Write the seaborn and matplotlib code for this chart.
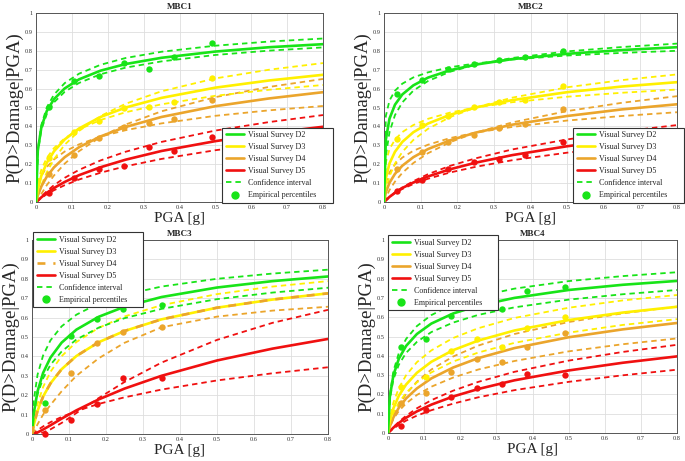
import matplotlib
matplotlib.use('Agg')
import matplotlib.pyplot as plt
from matplotlib.lines import Line2D
import seaborn as sns
import numpy as np

sns.set_theme(style='whitegrid')
plt.rcParams['font.family'] = ['Liberation Serif', 'DejaVu Serif']

# ==========================================
# DATA
# ==========================================
PGA_GRID = [0, 0.005, 0.015, 0.03, 0.05, 0.08, 0.12, 0.18, 0.25, 0.35, 0.5, 0.65, 0.8]
PGA_EMP = [0.035, 0.105, 0.175, 0.245, 0.315, 0.385, 0.49]
PGA_EMP3 = [0.035, 0.105, 0.175, 0.245, 0.35]

# MBC1
MBC1_D2 = [0, .272, .396, .481, .544, .601, .649, .695, .730, .763, .796, .819, .835]
MBC1_D2_A = [0, .274, .408, .500, .568, .629, .679, .726, .762, .795, .827, .849, .865]
MBC1_D2_B = [0, .264, .383, .465, .527, .583, .630, .676, .711, .744, .778, .801, .818]
MBC1_D3 = [0, .066, .140, .207, .268, .331, .389, .450, .500, .551, .605, .643, .673]
MBC1_D3_A = [0, .029, .089, .157, .226, .303, .376, .455, .520, .586, .654, .700, .735]
MBC1_D3_B = [0, .098, .172, .233, .285, .337, .384, .434, .475, .517, .562, .594, .619]
MBC1_D4 = [0, .034, .083, .134, .183, .237, .290, .347, .397, .450, .507, .548, .581]
MBC1_D4_A = [0, .011, .043, .089, .140, .203, .269, .344, .410, .480, .555, .609, .651]
MBC1_D4_B = [0, .081, .138, .185, .225, .267, .305, .346, .380, .416, .456, .485, .508]
MBC1_D5 = [0, .007, .025, .048, .074, .106, .142, .184, .224, .270, .322, .364, .398]
MBC1_D5_A = [0, .009, .029, .057, .089, .128, .170, .220, .266, .318, .378, .423, .460]
MBC1_D5_B = [0, .007, .022, .041, .062, .089, .119, .155, .189, .228, .274, .310, .340]
MBC1_EMP_D2 = [.504, .641, .669, .736, .704, .765, .842]
MBC1_EMP_D3 = [.235, .372, .428, .496, .504, .531, .658]
MBC1_EMP_D4 = [.149, .251, .336, .396, .416, .437, .540]
MBC1_EMP_D5 = [.048, .127, .172, .189, .292, .269, .342]

# MBC2
MBC2_D2 = [0, .330, .441, .515, .569, .617, .658, .697, .727, .756, .784, .804, .819]
MBC2_D2_A = [0, .455, .537, .589, .626, .659, .686, .713, .733, .754, .775, .789, .800]
MBC2_D2_B = [0, .244, .370, .460, .527, .589, .640, .689, .726, .762, .797, .820, .838]
MBC2_D3 = [0, .125, .204, .266, .318, .369, .415, .461, .500, .539, .581, .611, .634]
MBC2_D3_A = [0, .209, .280, .330, .370, .407, .440, .473, .500, .528, .557, .578, .595]
MBC2_D3_B = [0, .063, .136, .204, .265, .328, .387, .449, .500, .552, .607, .645, .675]
MBC2_D4 = [0, .051, .102, .149, .192, .237, .280, .326, .367, .409, .455, .490, .517]
MBC2_D4_A = [0, .102, .156, .199, .235, .271, .303, .338, .367, .397, .431, .455, .475]
MBC2_D4_B = [0, .023, .063, .108, .154, .206, .258, .316, .367, .421, .481, .525, .560]
MBC2_D5 = [0, .009, .027, .049, .074, .103, .135, .173, .208, .248, .295, .332, .362]
MBC2_D5_A = [0, .008, .026, .050, .077, .110, .147, .191, .231, .278, .331, .373, .407]
MBC2_D5_B = [0, .010, .027, .048, .069, .095, .123, .156, .186, .221, .261, .293, .320]
MBC2_EMP_D2 = [.574, .648, .705, .728, .752, .765, .800]
MBC2_EMP_D3 = [.332, .405, .456, .500, .528, .540, .612]
MBC2_EMP_D4 = [.175, .262, .315, .352, .390, .415, .490]
MBC2_EMP_D5 = [.057, .115, .172, .213, .228, .250, .320]

# MBC3 (D3 and D4 curves coincide)
MBC3_D2 = [0, .110, .220, .315, .394, .471, .538, .604, .656, .706, .755, .788, .812]
MBC3_D2_A = [0, .176, .306, .405, .483, .555, .615, .673, .718, .760, .800, .827, .847]
MBC3_D2_B = [0, .107, .205, .287, .357, .425, .487, .548, .597, .645, .695, .729, .754]
MBC3_D34 = [0, .048, .120, .193, .261, .334, .402, .473, .531, .591, .651, .693, .725]
MBC3_D3_A = [0, .065, .155, .242, .321, .401, .474, .547, .606, .664, .721, .760, .788]
MBC3_D4_B = [0, .010, .050, .100, .150, .220, .300, .390, .470, .550, .605, .636, .656]
MBC3_D5 = [0, .001, .008, .023, .045, .079, .122, .178, .234, .300, .379, .440, .490]
MBC3_D5_A = [0, .000, .001, .008, .024, .057, .108, .185, .268, .368, .485, .573, .640]
MBC3_D5_B = [0, .006, .020, .039, .061, .088, .118, .155, .189, .229, .276, .313, .344]
MBC3_EMP_D2 = [.162, .505, .593, .644, .667]
MBC3_EMP_D4 = [.124, .313, .467, .524, .550]
MBC3_EMP_D5 = [.000, .074, .156, .287, .287]

# MBC4
MBC4_D2 = [0, .187, .300, .385, .451, .513, .567, .619, .660, .700, .741, .768, .788]
MBC4_D2_A = [0, .195, .321, .414, .487, .554, .611, .666, .708, .748, .787, .813, .833]
MBC4_D2_B = [0, .176, .278, .354, .415, .472, .523, .572, .612, .651, .691, .719, .741]
MBC4_D3 = [0, .060, .128, .193, .251, .312, .369, .429, .479, .531, .585, .624, .654]
MBC4_D3_A = [0, .075, .158, .233, .299, .367, .428, .492, .543, .596, .649, .687, .715]
MBC4_D3_B = [0, .046, .103, .157, .208, .262, .314, .370, .417, .467, .520, .560, .590]
MBC4_D4 = [0, .034, .081, .131, .179, .231, .283, .339, .388, .440, .496, .537, .570]
MBC4_D4_A = [0, .032, .086, .145, .202, .266, .329, .396, .453, .513, .575, .620, .655]
MBC4_D4_B = [0, .032, .073, .114, .153, .197, .240, .287, .329, .373, .423, .460, .490]
MBC4_D5 = [0, .009, .028, .052, .079, .112, .147, .189, .228, .273, .324, .364, .397]
MBC4_D5_A = [0, .009, .030, .058, .089, .128, .170, .219, .265, .317, .375, .420, .457]
MBC4_D5_B = [0, .008, .023, .042, .064, .090, .118, .152, .185, .222, .265, .299, .328]
MBC4_EMP_D2 = [.446, .488, .607, np.nan, .644, .737, .759]
MBC4_EMP_D3 = [.238, .288, .425, .485, .446, .545, .600]
MBC4_EMP_D4 = [.155, .205, .316, .386, .369, .448, .517]
MBC4_EMP_D5 = [.034, .117, .188, .233, .253, .305, .302]

LEGEND_LABELS = ['Visual Survey D2', 'Visual Survey D3', 'Visual Survey D4',
                 'Visual Survey D5', 'Confidence interval', 'Empirical percentiles']

GREEN, YELLOW, ORANGE, RED = '#18e418', '#fff000', '#eba52c', '#f01010'

# ==========================================
# FIGURE
# ==========================================
W, H = 685, 461
fig = plt.figure(figsize=(W / 100, H / 100), dpi=100)


def make_axes(x0, x1, y0, y1):
    return fig.add_axes([x0 / W, 1 - y1 / H, (x1 - x0) / W, (y1 - y0) / H])


def curve(ax, y, color, ls='-', lw=1.9, z=3):
    if ls == '-':
        sns.lineplot(x=PGA_GRID, y=y, ax=ax, color=color, linewidth=lw,
                     estimator=None, sort=False, zorder=z)
    else:
        sns.lineplot(x=PGA_GRID, y=y, ax=ax, color=color, linewidth=lw,
                     linestyle=ls, estimator=None, sort=False, zorder=z)


def points(ax, x, y, color):
    x = np.asarray(x, float)
    y = np.asarray(y, float)
    ok = ~np.isnan(y)
    sns.scatterplot(x=x[ok], y=y[ok], ax=ax, color=color, s=21, linewidth=0,
                    zorder=5, clip_on=False)


def style_axes(ax, title):
    ax.set_xlim(0, 0.8)
    ax.set_ylim(0, 1)
    ax.set_xticks(np.arange(0, 0.81, 0.1))
    ax.set_xticklabels(['0'] + ['%.1f' % v for v in np.arange(0.1, 0.81, 0.1)])
    ax.set_yticks(np.arange(0, 1.01, 0.1))
    ax.set_yticklabels(['0'] + ['%.1f' % v for v in np.arange(0.1, 0.95, 0.1)] + ['1'])
    ax.tick_params(labelsize=4.6, length=2, direction='in', pad=2.5, colors='#333333')
    ax.grid(True, color='#dedede', linewidth=0.6)
    for sp in ax.spines.values():
        sp.set_visible(True)
        sp.set_color('#555555')
        sp.set_linewidth(0.7)
    ax.set_facecolor('white')
    ax.set_title(title, fontsize=6.5, fontweight='bold', pad=3)
    ax.set_xlabel('PGA [g]', fontsize=11, labelpad=1)
    ax.set_ylabel('P(D>Damage|PGA)', fontsize=13.5, labelpad=0.5)


def add_legend(ax, loc, bbox, d4_dashed=False):
    handles = [
        Line2D([], [], color=GREEN, lw=1.9),
        Line2D([], [], color=YELLOW, lw=1.9),
        Line2D([], [], color=ORANGE, lw=1.9, ls=(0, (3, 3)) if d4_dashed else '-'),
        Line2D([], [], color=RED, lw=1.9),
        Line2D([], [], color=GREEN, lw=1.3, ls=(0, (3, 2.2))),
        Line2D([], [], color=GREEN, lw=0, marker='o', markersize=5),
    ]
    leg = ax.legend(handles, LEGEND_LABELS, loc=loc, bbox_to_anchor=bbox,
                    mode='expand', fontsize=5.8, frameon=True, fancybox=False,
                    framealpha=1, edgecolor='#333333', borderaxespad=0,
                    handlelength=2.3, labelspacing=0.5, borderpad=0.45,
                    handletextpad=0.5)
    leg.get_frame().set_linewidth(0.8)
    leg.set_zorder(10)


DASH = (0, (3, 2.2))


def standard_panel(ax, title, d2, d3, d4, d5, emp):
    for mean, a, b, col in [d5, d4, d3, d2]:
        curve(ax, a, col[0], DASH, 1.3, 2)
        curve(ax, b, col[0], DASH, 1.3, 2)
    for mean, a, b, col in [d5, d4, d3, d2]:
        curve(ax, mean, col[0], '-', 1.9, 3)
    for ys, col in emp:
        points(ax, PGA_EMP, ys, col)
    style_axes(ax, title)


# Panel MBC1
ax1 = make_axes(36, 323, 13, 202)
standard_panel(ax1, 'MBC1',
               (MBC1_D2, MBC1_D2_A, MBC1_D2_B, [GREEN]),
               (MBC1_D3, MBC1_D3_A, MBC1_D3_B, [YELLOW]),
               (MBC1_D4, MBC1_D4_A, MBC1_D4_B, [ORANGE]),
               (MBC1_D5, MBC1_D5_A, MBC1_D5_B, [RED]),
               [(MBC1_EMP_D5, RED), (MBC1_EMP_D4, ORANGE),
                (MBC1_EMP_D3, YELLOW), (MBC1_EMP_D2, GREEN)])
add_legend(ax1, 'lower left', (0.648, -0.005, 0.387, 0.4))

# Panel MBC2
ax2 = make_axes(384, 677, 13, 202)
standard_panel(ax2, 'MBC2',
               (MBC2_D2, MBC2_D2_A, MBC2_D2_B, [GREEN]),
               (MBC2_D3, MBC2_D3_A, MBC2_D3_B, [YELLOW]),
               (MBC2_D4, MBC2_D4_A, MBC2_D4_B, [ORANGE]),
               (MBC2_D5, MBC2_D5_A, MBC2_D5_B, [RED]),
               [(MBC2_EMP_D5, RED), (MBC2_EMP_D4, ORANGE),
                (MBC2_EMP_D3, YELLOW), (MBC2_EMP_D2, GREEN)])
add_legend(ax2, 'lower left', (0.645, -0.005, 0.379, 0.4))

# Panel MBC3
ax3 = make_axes(32, 328, 240, 434)
curve(ax3, MBC3_D5_A, RED, DASH, 1.3, 2)
curve(ax3, MBC3_D5_B, RED, DASH, 1.3, 2)
curve(ax3, MBC3_D4_B, ORANGE, DASH, 1.3, 2)
curve(ax3, MBC3_D3_A, YELLOW, DASH, 1.3, 2)
curve(ax3, MBC3_D2_A, GREEN, DASH, 1.3, 2)
curve(ax3, MBC3_D2_B, GREEN, DASH, 1.3, 2)
curve(ax3, MBC3_D5, RED)
curve(ax3, MBC3_D34, YELLOW)
curve(ax3, MBC3_D34, ORANGE, (0, (3, 3)), 1.9, 4)
curve(ax3, MBC3_D2, GREEN)
points(ax3, PGA_EMP3, MBC3_EMP_D5, RED)
points(ax3, PGA_EMP3, MBC3_EMP_D4, ORANGE)
points(ax3, PGA_EMP3, MBC3_EMP_D2, GREEN)
style_axes(ax3, 'MBC3')
add_legend(ax3, 'upper left', (0.003, 0.6, 0.372, 0.441), d4_dashed=True)

# Panel MBC4
ax4 = make_axes(388, 677, 240, 433)
standard_panel(ax4, 'MBC4',
               (MBC4_D2, MBC4_D2_A, MBC4_D2_B, [GREEN]),
               (MBC4_D3, MBC4_D3_A, MBC4_D3_B, [YELLOW]),
               (MBC4_D4, MBC4_D4_A, MBC4_D4_B, [ORANGE]),
               (MBC4_D5, MBC4_D5_A, MBC4_D5_B, [RED]),
               [(MBC4_EMP_D5, RED), (MBC4_EMP_D4, ORANGE),
                (MBC4_EMP_D3, YELLOW), (MBC4_EMP_D2, GREEN)])
add_legend(ax4, 'upper left', (0.0, 0.6, 0.381, 0.426))

fig.savefig('out.png', dpi=100, facecolor='white')
